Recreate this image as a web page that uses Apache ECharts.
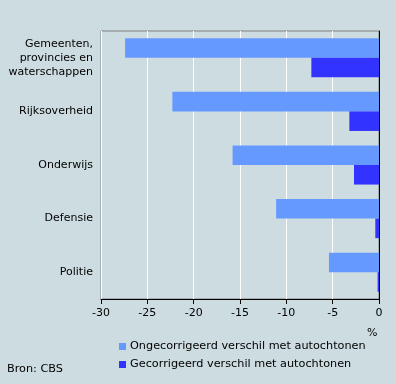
<!DOCTYPE html>
<html><head><meta charset="utf-8">
<script src="https://cdn.jsdelivr.net/npm/echarts@6/dist/echarts.min.js"></script>
<style>html,body{margin:0;padding:0;background:#cddce1;}#c{width:396px;height:384px;}</style>
</head><body><div id="c"></div>
<script>
const categories = ["Gemeenten,\nprovincies en\nwaterschappen", "Rijksoverheid", "Onderwijs", "Defensie", "Politie"];
const seriesNames = ["Ongecorrigeerd verschil met autochtonen", "Gecorrigeerd verschil met autochtonen"];
const uncorrected = [-27.4, -22.3, -15.8, -11.1, -5.4];
const corrected = [-7.3, -3.2, -2.7, -0.4, -0.15];
const xTicks = [-30, -25, -20, -15, -10, -5, 0];
const unitLabel = "%";
const sourceLabel = "Bron: CBS";

const font = "DejaVu Sans";
const chart = echarts.init(document.getElementById('c'), null, {renderer: 'canvas'});
chart.setOption({
  backgroundColor: '#cddce1',
  animation: false,
  grid: {left: 101, right: 17, top: 31, bottom: 85, show: true, borderColor: '#808080', borderWidth: 1, backgroundColor: 'transparent'},
  xAxis: {
    type: 'value', min: xTicks[0], max: xTicks[xTicks.length - 1], interval: 5,
    axisLine: {show: true, lineStyle: {color: '#000', width: 1}},
    axisTick: {show: true, length: 5, lineStyle: {color: '#000'}},
    axisLabel: {color: '#000', fontFamily: font, fontSize: 11, margin: 9},
    splitLine: {show: true, lineStyle: {color: '#ffffff', width: 1}}
  },
  yAxis: {
    type: 'category', data: categories, inverse: true,
    axisLine: {show: true, onZero: true, lineStyle: {color: '#000', width: 1}},
    axisTick: {show: false},
    axisLabel: {color: '#000', fontFamily: font, fontSize: 11, lineHeight: 14, margin: 8, align: 'right'},
    splitLine: {show: false}
  },
  legend: {
    orient: 'vertical', left: 114, top: 336, itemWidth: 7, itemHeight: 7, itemGap: 7,
    icon: 'rect',
    textStyle: {color: '#000', fontFamily: font, fontSize: 11.25, padding: [0, 0, 0, -1]},
    data: seriesNames
  },
  series: [
    {name: seriesNames[0], type: 'bar', data: uncorrected, itemStyle: {color: '#6699ff'}, barGap: '0%', barCategoryGap: '27%'},
    {name: seriesNames[1], type: 'bar', data: corrected, itemStyle: {color: '#3333ff'}, barGap: '0%', barCategoryGap: '27%'}
  ],
  graphic: [
    {type: 'text', left: 367, top: 328, style: {text: unitLabel, fill: '#000', font: '11px "DejaVu Sans"'}},
    {type: 'text', left: 7, top: 364, style: {text: sourceLabel, fill: '#000', font: '11.25px "DejaVu Sans"'}}
  ]
});
</script></body></html>
